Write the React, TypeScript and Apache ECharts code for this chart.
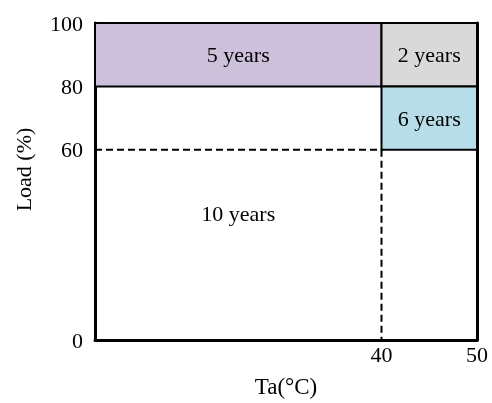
import { useEffect, useRef } from "react";
import * as echarts from "echarts";

const xTickLabels = [40, 50];
const yTickLabels = [0, 60, 80, 100];
const regionLabels = ["10 years", "5 years", "2 years", "6 years"];
const regionX0 = [10, 10, 40, 40];
const regionX1 = [40, 40, 50, 50];
const regionY0 = [0, 80, 80, 60];
const regionY1 = [80, 100, 100, 80];
const regionColors = ["transparent", "#CCC0DA", "#D9D9D9", "#B7DEE8"];
const dashedStart = [
  [10, 60],
  [40, 60],
];
const dashedEnd = [
  [40, 60],
  [40, 0],
];

const FONT = '"Liberation Serif", "Times New Roman", serif';

export default function App() {
  const ref = useRef<HTMLDivElement>(null);
  useEffect(() => {
    if (!ref.current) return;
    const chart = echarts.init(ref.current, null, { renderer: "svg" });
    const regionData = regionLabels.map((_, i) => [regionX0[i], regionX1[i], regionY0[i], regionY1[i]]);
    const dashData = dashedStart.map((s, i) => [s[0], s[1], dashedEnd[i][0], dashedEnd[i][1]]);
    chart.setOption({
      animation: false,
      grid: {
        left: 95,
        right: 15,
        top: 23,
        bottom: 62,
        show: true,
        borderColor: "#000",
        borderWidth: 2,
        backgroundColor: "transparent",
      },
      xAxis: {
        type: "value",
        min: 10,
        max: 50,
        interval: 10,
        name: "Ta(°C)",
        nameLocation: "middle",
        nameGap: 35,
        nameTextStyle: { fontFamily: FONT, fontSize: 23, color: "#000" },
        axisLine: { show: true, lineStyle: { color: "#000", width: 3 } },
        axisTick: { show: false },
        splitLine: { show: false },
        axisLabel: {
          margin: 3,
          fontFamily: FONT,
          fontSize: 22,
          color: "#000",
          formatter: (v: number) => (xTickLabels.includes(v) ? String(v) : ""),
        },
      },
      yAxis: [
        {
          type: "value",
          min: 0,
          max: 100,
          interval: 20,
          name: "Load (%)",
          nameLocation: "middle",
          nameGap: 61,
          nameTextStyle: { fontFamily: FONT, fontSize: 22, color: "#000", padding: [0, 0, 0, 24] },
          axisLine: { show: true, lineStyle: { color: "#000", width: 3 } },
          axisTick: { show: false },
          splitLine: { show: false },
          axisLabel: {
            margin: 12,
            fontFamily: FONT,
            fontSize: 22,
            color: "#000",
            formatter: (v: number) => (yTickLabels.includes(v) ? String(v) : ""),
          },
        },
        {
          type: "value",
          min: 0,
          max: 100,
          interval: 20,
          position: "right",
          axisLine: { show: true, lineStyle: { color: "#000", width: 3 } },
          axisTick: { show: false },
          splitLine: { show: false },
          axisLabel: { show: false },
        },
      ],
      series: [
        {
          type: "custom",
          data: dashData,
          encode: { x: [0, 2], y: [1, 3] },
          renderItem: (_params: any, api: any) => {
            const a = api.coord([api.value(0), api.value(1)]);
            const b = api.coord([api.value(2), api.value(3)]);
            return {
              type: "line",
              shape: { x1: a[0], y1: a[1], x2: b[0], y2: b[1] },
              style: { stroke: "#000", lineWidth: 2, lineDash: [7, 4] },
            };
          },
          z: 3,
        },
        {
          type: "custom",
          data: regionData,
          encode: { x: [0, 1], y: [2, 3] },
          renderItem: (params: any, api: any) => {
            const i = params.dataIndex;
            const p0 = api.coord([api.value(0), api.value(3)]);
            const p1 = api.coord([api.value(1), api.value(2)]);
            const filled = regionColors[i] !== "transparent";
            return {
              type: "group",
              children: [
                {
                  type: "rect",
                  shape: { x: p0[0], y: p0[1], width: p1[0] - p0[0], height: p1[1] - p0[1] },
                  style: {
                    fill: filled ? regionColors[i] : "rgba(0,0,0,0)",
                    stroke: filled ? "#000" : null,
                    lineWidth: filled ? 2 : 0,
                  },
                },
                {
                  type: "text",
                  x: (p0[0] + p1[0]) / 2,
                  y: (p0[1] + p1[1]) / 2,
                  style: {
                    text: regionLabels[i],
                    fill: "#000",
                    fontFamily: FONT,
                    fontSize: 22,
                    align: "center",
                    verticalAlign: "middle",
                    textAlign: "center",
                    textVerticalAlign: "middle",
                  },
                },
              ],
            };
          },
          z: 2,
        },
      ],
    });
    return () => chart.dispose();
  }, []);
  return <div ref={ref} style={{ position: "fixed", left: 0, top: 0, width: 492, height: 403 }} />;
}
